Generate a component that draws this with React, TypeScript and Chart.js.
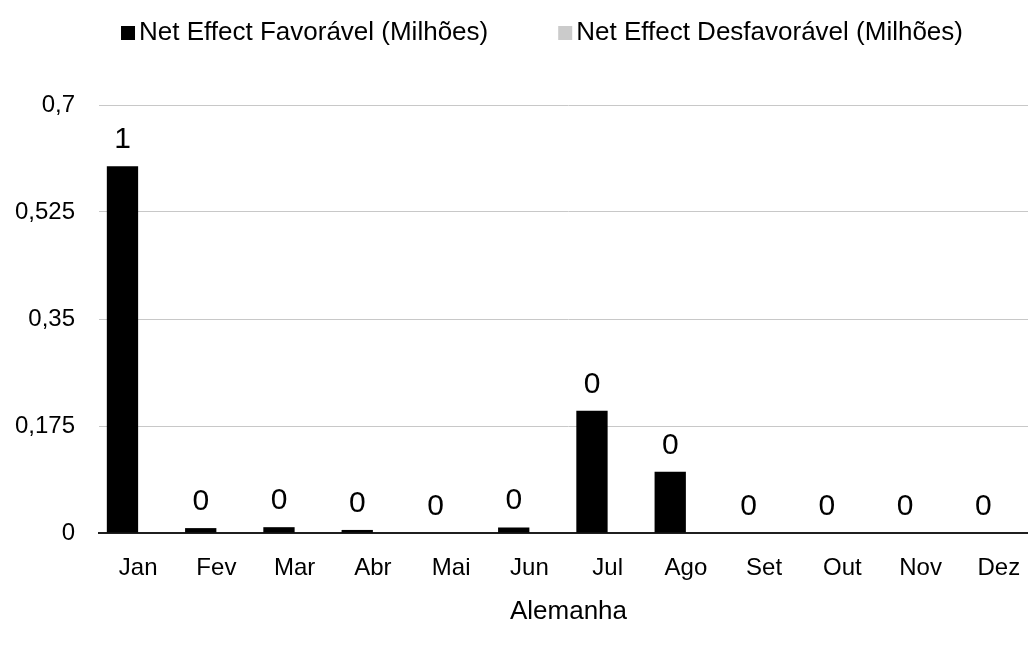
import React, { useEffect, useRef } from 'react';
import { Chart, registerables } from 'chart.js';

Chart.register(...registerables);

const categories = ['Jan', 'Fev', 'Mar', 'Abr', 'Mai', 'Jun', 'Jul', 'Ago', 'Set', 'Out', 'Nov', 'Dez'];
const favoravel = [0.6, 0.008, 0.0095, 0.005, 0, 0.009, 0.2, 0.1, 0, 0, 0, 0];
const desfavoravel = [0, 0, 0, 0, 0, 0, 0, 0, 0, 0, 0, 0];
const yTicks = [0, 0.175, 0.35, 0.525, 0.7];
const seriesNames = ['Net Effect Favorável (Milhões)', 'Net Effect Desfavorável (Milhões)'];
const axisTitle = 'Alemanha';

const FONT = '"Liberation Sans", Arial, sans-serif';

const dataLabelsPlugin = {
  id: 'dataLabels',
  afterDatasetsDraw(chart: any) {
    const ctx = chart.ctx;
    const meta = chart.getDatasetMeta(0);
    ctx.save();
    ctx.font = `30px ${FONT}`;
    ctx.fillStyle = '#000';
    ctx.textAlign = 'center';
    ctx.textBaseline = 'alphabetic';
    meta.data.forEach((bar: any, i: number) => {
      const v = favoravel[i];
      ctx.fillText(String(Math.round(v)), bar.x, bar.y - 18);
    });
    ctx.restore();
  },
};

const legendPlugin = {
  id: 'customLegend',
  afterDraw(chart: any) {
    const ctx = chart.ctx;
    ctx.save();
    ctx.font = `26px ${FONT}`;
    const box = 14;
    const gapText = 4;
    const gapItems = 70;
    const items = chart.data.datasets.map((ds: any) => ({
      label: ds.label,
      color: ds.backgroundColor,
      w: ctx.measureText(ds.label).width,
    }));
    const total =
      items.reduce((s: number, it: any) => s + box + gapText + it.w, 0) + gapItems * (items.length - 1);
    let x = chart.width / 2 - total / 2;
    const y = 33;
    ctx.textBaseline = 'middle';
    ctx.textAlign = 'left';
    items.forEach((it: any) => {
      ctx.fillStyle = it.color;
      ctx.fillRect(x, y - box / 2, box, box);
      x += box + gapText;
      ctx.fillStyle = '#000';
      ctx.fillText(it.label, x, y);
      x += it.w + gapItems;
    });
    ctx.restore();
  },
};

export default function App() {
  const canvasRef = useRef<HTMLCanvasElement | null>(null);

  useEffect(() => {
    if (!canvasRef.current) return;
    const chart = new Chart(canvasRef.current, {
      type: 'bar',
      data: {
        labels: categories,
        datasets: [
          {
            label: seriesNames[0],
            data: favoravel,
            backgroundColor: '#000000',
            categoryPercentage: 0.8,
            barPercentage: 1.0,
          },
          {
            label: seriesNames[1],
            data: desfavoravel,
            backgroundColor: '#CBCBCB',
            categoryPercentage: 0.8,
            barPercentage: 1.0,
          },
        ],
      },
      options: {
        responsive: false,
        devicePixelRatio: 1,
        animation: false,
        layout: { padding: { top: 105, right: 46, left: 0, bottom: 0 } },
        plugins: {
          legend: { display: false },
          tooltip: { enabled: false },
        },
        scales: {
          x: {
            grid: { display: false },
            border: { display: true, color: '#1f1f1f', width: 2 },
            ticks: { font: { family: FONT, size: 24 }, color: '#000', padding: 13 },
            title: {
              display: true,
              text: axisTitle,
              font: { family: FONT, size: 26 },
              color: '#000',
              padding: { top: 8, bottom: 21 },
            },
            afterFit: (s: any) => {
              s.height = 115;
            },
          },
          y: {
            min: 0,
            max: 0.7,
            afterBuildTicks: (s: any) => {
              s.ticks = yTicks.map((v) => ({ value: v }));
            },
            grid: { color: '#C8C8C8', lineWidth: 1, drawTicks: false },
            border: { display: false },
            ticks: {
              font: { family: FONT, size: 24 },
              color: '#000',
              padding: 24,
              callback: (v: any) => String(Number(Number(v).toFixed(3))).replace('.', ','),
            },
            afterFit: (s: any) => {
              s.width = 99;
            },
          },
        },
      },
      plugins: [dataLabelsPlugin, legendPlugin],
    });
    return () => chart.destroy();
  }, []);

  return (
    <div style={{ position: 'fixed', left: 0, top: 0, width: 1028, height: 648, overflow: 'hidden', background: '#fff' }}>
      <canvas ref={canvasRef} width={1084} height={648} style={{ width: '1084px', height: '648px' }} />
    </div>
  );
}
